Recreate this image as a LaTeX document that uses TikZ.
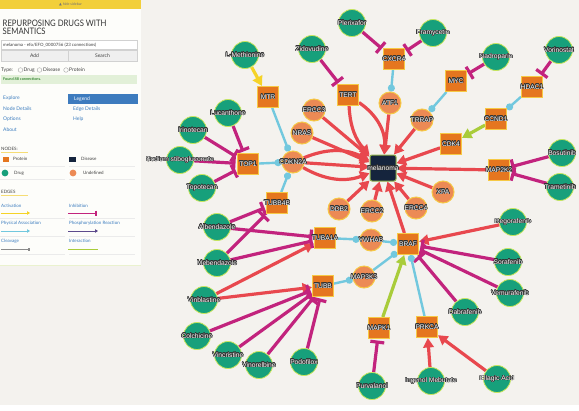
\documentclass[tikz,border=0pt]{standalone}
\usepackage{fontspec}
\setmainfont{Liberation Sans}
\newfontfamily\uifont{Lato}
\newfontfamily\titlefont[FakeStretch=0.86]{Lato}
\newfontfamily\symfont{DejaVu Sans}
\usepackage{contour}
\contourlength{0.45pt}
\usetikzlibrary{arrows.meta,backgrounds}

\definecolor{canvas}{HTML}{F4F2EE}
\definecolor{panel}{HTML}{FDFDFA}
\definecolor{baryellow}{HTML}{F2CF3A}
\definecolor{protorange}{HTML}{E5761F}
\definecolor{nodeyellow}{HTML}{F6C945}
\definecolor{druggreen}{HTML}{17A07B}
\definecolor{drugrim}{HTML}{C9E65C}
\definecolor{undeforange}{HTML}{EC8A55}
\definecolor{disnavy}{HTML}{15243D}
\definecolor{disrim}{HTML}{8FB04C}
\definecolor{edgered}{HTML}{E8484E}
\definecolor{inhibmag}{HTML}{C2237D}
\definecolor{physblue}{HTML}{72C8DE}
\definecolor{actyellow}{HTML}{F5D327}
\definecolor{intgreen}{HTML}{A9CC3A}
\definecolor{phosviolet}{HTML}{5C4A8C}
\definecolor{cleavgrey}{HTML}{8A8A8A}
\definecolor{linkblue}{HTML}{3C7DBF}
\definecolor{legendblue}{HTML}{3D7BBE}
\definecolor{foundgreen}{HTML}{E2F0D8}
\definecolor{btngrey}{HTML}{EFEFEF}

\newcommand{\halo}[1]{\contour{black!80}{#1}}

\begin{document}
\begin{tikzpicture}[x=1bp, y=-1bp,
  protein/.style={rectangle, minimum size=21bp, inner sep=0pt, fill=protorange, draw=nodeyellow, line width=1bp},
  drug/.style={circle, minimum size=27bp, inner sep=0pt, fill=druggreen, draw=drugrim, line width=0.8bp},
  undef/.style={circle, minimum size=22bp, inner sep=0pt, fill=undeforange, draw=nodeyellow, line width=1bp},
  disease/.style={rectangle, rounded corners=2bp, minimum size=26bp, inner sep=0pt, fill=disnavy, draw=disrim, line width=1bp},
  lbl/.style={font=\fontsize{6.7}{7}\selectfont, text=white, inner sep=0pt},
  assoc/.style={draw=edgered, line width=3.2bp, -{Triangle[length=9.5bp,width=10.5bp]}},
  inhib/.style={draw=inhibmag, line width=3.2bp, -{Bar[width=14bp]}, shorten >=1.5bp},
  phys/.style={draw=physblue, line width=2.4bp, {Circle[length=7bp]}-},
  activ/.style={draw=actyellow, line width=3.2bp, -{Triangle[length=9.5bp,width=10.5bp]}},
  inter/.style={draw=intgreen, line width=3.2bp, -{Triangle[length=9.5bp,width=10.5bp]}},
  side/.style={font=\uifont\fontsize{5}{6}\selectfont, anchor=west, inner sep=0pt, text=black!75},
  link/.style={side, text=linkblue}]
\useasboundingbox (0,0) rectangle (579,410);

% disease and proteins
\node[disease, label={[lbl]center:\halo{melanoma}}] (mel) at (383,168) {};
\node[protein, label={[lbl]center:\halo{MTR}}] (mtr) at (268,97) {};
\node[protein, label={[lbl]center:\halo{TERT}}] (tert) at (348,95) {};
\node[protein, label={[lbl]center:\halo{CXCR4}}] (cxcr4) at (394,59) {};
\node[protein, label={[lbl]center:\halo{MYC}}] (myc) at (456,81) {};
\node[protein, label={[lbl]center:\halo{HDAC1}}] (hdac1) at (532,87) {};
\node[protein, label={[lbl]center:\halo{CCND1}}] (ccnd1) at (496,119) {};
\node[protein, label={[lbl]center:\halo{CDK4}}] (cdk4) at (451,144) {};
\node[protein, label={[lbl]center:\halo{MAP2K2}}] (map2k2) at (499,170) {};
\node[protein, label={[lbl]center:\halo{TOP1}}] (top1) at (248,164) {};
\node[protein, label={[lbl]center:\halo{TUBB4B}}] (tubb4b) at (277,203) {};
\node[protein, label={[lbl]center:\halo{TUBA1A}}] (tuba1a) at (325,238) {};
\node[protein, label={[lbl]center:\halo{BRAF}}] (braf) at (408,244) {};
\node[protein, label={[lbl]center:\halo{TUBB}}] (tubb) at (323,286) {};
\node[protein, label={[lbl]center:\halo{MAPK1}}] (mapk1) at (379,328) {};
\node[protein, label={[lbl]center:\halo{PRKCA}}] (prkca) at (427,327) {};

% undefined
\node[undef, label={[lbl]center:\halo{ERCC3}}] (ercc3) at (314,110) {};
\node[undef, label={[lbl]center:\halo{NRAS}}] (nras) at (302,133) {};
\node[undef, label={[lbl]center:\halo{ATF1}}] (atf1) at (390,103) {};
\node[undef, label={[lbl]center:\halo{TRRAP}}] (trrap) at (422,120) {};
\node[undef, label={[lbl]center:\halo{CDKN2A}}] (cdkn) at (293,162) {};
\node[undef, label={[lbl]center:\halo{XPA}}] (xpa) at (443,192) {};
\node[undef, label={[lbl]center:\halo{ERCC4}}] (ercc4) at (416,208) {};
\node[undef, label={[lbl]center:\halo{DDB2}}] (ddb2) at (339,209) {};
\node[undef, label={[lbl]center:\halo{ERCC2}}] (ercc2) at (372,211) {};
\node[undef, label={[lbl]center:\halo{YWHAB}}] (ywhab) at (371,240) {};
\node[undef, label={[lbl]center:\halo{MAP3K3}}] (map3k3) at (364,277) {};

% drugs
\node[drug, label={[lbl]center:\halo{L-Methionine}}] (lmet) at (245,55) {};
\node[drug, label={[lbl]center:\halo{Zidovudine}}] (zido) at (312,49) {};
\node[drug, label={[lbl]center:\halo{Plerixafor}}] (pler) at (352,23) {};
\node[drug, label={[lbl]center:\halo{Framycetin}}] (fram) at (433,33) {};
\node[drug, label={[lbl]center:\halo{Nadroparin}}] (nadro) at (496,57) {};
\node[drug, label={[lbl]center:\halo{Vorinostat}}] (vori) at (559,50) {};
\node[drug, label={[lbl]center:\halo{Lucanthone}}] (lucan) at (228,113) {};
\node[drug, label={[lbl]center:\halo{Irinotecan}}] (irino) at (193,130) {};
\node[drug, label={[lbl]center:\halo{Sodium stibogluconate}}] (sodium) at (180,160) {};
\node[drug, label={[lbl]center:\halo{Topotecan}}] (topo) at (202,188) {};
\node[drug, label={[lbl]center:\halo{Bosutinib}}] (bosu) at (562,153) {};
\node[drug, label={[lbl]center:\halo{Trametinib}}] (trame) at (560,187) {};
\node[drug, label={[lbl]center:\halo{Albendazole}}] (albe) at (217,227) {};
\node[drug, label={[lbl]center:\halo{Mebendazole}}] (mebe) at (217,263) {};
\node[drug, label={[lbl]center:\halo{Regorafenib}}] (rego) at (513,222) {};
\node[drug, label={[lbl]center:\halo{Sorafenib}}] (sora) at (508,262) {};
\node[drug, label={[lbl]center:\halo{Vemurafenib}}] (vemu) at (510,293) {};
\node[drug, label={[lbl]center:\halo{Dabrafenib}}] (dabra) at (465,312) {};
\node[drug, label={[lbl]center:\halo{Vinblastine}}] (vinbl) at (204,300) {};
\node[drug, label={[lbl]center:\halo{Colchicine}}] (colch) at (197,336) {};
\node[drug, label={[lbl]center:\halo{Vincristine}}] (vincr) at (228,355) {};
\node[drug, label={[lbl]center:\halo{Vinorelbine}}] (vinor) at (259,365) {};
\node[drug, label={[lbl]center:\halo{Podofilox}}] (podo) at (304,362) {};
\node[drug, label={[lbl]center:\halo{Purvalanol}}] (purva) at (372,386) {};
\node[drug, label={[lbl]center:\halo{Ingenol Mebutate}}] (ingenol) at (431,381) {};
\node[drug, label={[lbl]center:\halo{Ellagic Acid}}] (ellag) at (497,379) {};

\begin{scope}[on background layer]
  \fill[canvas] (0,0) rectangle (579,410);
  \fill[white] (0,405) rectangle (579,410);
  % associations with the disease
  \foreach \g in {ercc3,nras,atf1,trrap,cdk4,map2k2,xpa,ercc4,ercc2,ddb2,braf}
    \draw[assoc] (\g) -- (mel);
  \draw[assoc] (tert) to[bend right=20] (mel);
  \draw[assoc] (tert) to[bend left=30] (mel);
  \draw[assoc] (cdkn) to[bend left=25] (mel);
  \draw[assoc] (cdkn) -- (mel);
  \draw[assoc] (cdkn) to[bend right=25] (mel);
  % drug targets
  \draw[assoc] (vinbl) -- (tubb);
  \draw[assoc] (vinbl) -- (tuba1a);
  \draw[assoc] (rego) -- (braf);
  \draw[assoc] (ingenol) -- (prkca);
  \draw[assoc] (ellag) -- (prkca);
  \draw[activ] (lmet) -- (mtr);
  \foreach \d/\p in {zido/tert,pler/cxcr4,fram/cxcr4,nadro/myc,vori/hdac1,
      lucan/top1,irino/top1,sodium/top1,topo/top1,bosu/map2k2,trame/map2k2,
      albe/tubb4b,albe/tuba1a,mebe/tubb4b,mebe/tuba1a,colch/tubb,vincr/tubb,
      vinor/tubb,podo/tubb,purva/mapk1,sora/braf,vemu/braf,dabra/braf}
    \draw[inhib] (\d) -- (\p);
  % protein interactions
  \draw[phys] (cdkn) -- (mtr);
  \draw[phys] (cdkn) -- (top1);
  \draw[phys] (cdkn) -- (tubb4b);
  \draw[phys] (atf1) -- (cxcr4);
  \draw[phys] (trrap) -- (myc);
  \draw[phys] (ccnd1) -- (hdac1);
  \draw[phys] (ywhab) -- (tuba1a);
  \draw[phys] (braf) -- (ywhab);
  \draw[phys] (map3k3) -- (tubb);
  \draw[phys] (braf) -- (map3k3);
  \draw[phys] (braf) -- (prkca);
  \draw[inter] (mapk1) -- (braf);
  \draw[inter] (ccnd1) -- (cdk4);
\end{scope}

% sidebar
\fill[panel] (0,9) rectangle (141,265);
\draw[intgreen!25, line width=1bp] (0,265) -- (141,265);
\fill[baryellow] (0,0) rectangle (141,9);
\node[side, anchor=center, font=\uifont\fontsize{3.6}{4}\selectfont, text=black!55] (hide) at (70.5,4.5) {{\symfont ▲} hide sidebar};
\node[anchor=north west, inner sep=0pt, align=left, text=black!80,
  font=\titlefont\fontsize{9}{8.6}\selectfont] (title) at (2.5,19.5) {REPURPOSING DRUGS WITH\\SEMANTICS};
\draw[black!18, fill=white] (1,40) rectangle (137,49.5);
\node[side, font=\uifont\fontsize{4.4}{5}\selectfont] (query) at (3,44.8) {melanoma - efo/EFO\_0000756 (23 connections)};
\draw[black!18, fill=btngrey] (1,50) rectangle (68.5,61);
\draw[black!18, fill=btngrey] (68.5,50) rectangle (137,61);
\node[side, anchor=center] (addbtn) at (34.5,55.5) {Add};
\node[side, anchor=center] (searchbtn) at (102.5,55.5) {Search};
\node[side] (typelbl) at (1,70) {Type:};
\draw[black!35, line width=0.4bp] (20.5,70) circle (2.3);
\node[side] (rdrug) at (23.5,70) {Drug};
\draw[black!35, line width=0.4bp] (39.5,70) circle (2.3);
\node[side] (rdis) at (43,70) {Disease};
\draw[black!35, line width=0.4bp] (66,70) circle (2.3);
\node[side] (rprot) at (69,70) {Protein};
\fill[foundgreen] (1,75) rectangle (137,84);
\node[side, font=\uifont\fontsize{3.8}{4}\selectfont, text=green!40!black] (found) at (3,79.5) {Found 88 connections.};
\fill[legendblue] (68,94) rectangle (138,104);
\node[link] (explore) at (3,98.5) {Explore};
\node[side, text=white] (legend) at (74,99) {Legend};
\node[link] (nodedet) at (3,109) {Node Details};
\node[link] (edgedet) at (73,109) {Edge Details};
\node[link] (options) at (3,119.5) {Options};
\node[link] (help) at (73,119.5) {Help};
\node[link] (about) at (3,130) {About};

% legend
\node[side, font=\uifont\fontsize{4.5}{5}\selectfont] (nodeshd) at (1,149) {NODES:};
\draw[baryellow!70, line width=0.6bp] (1,152.5) -- (28,152.5);
\fill[protorange] (3,156.5) rectangle (8.5,162);
\node[side, font=\uifont\fontsize{4.5}{5}\selectfont] (lprot) at (13,159.2) {Protein};
\fill[disnavy] (69,156.5) rectangle (75.5,162);
\node[side, font=\uifont\fontsize{4.5}{5}\selectfont] (ldis) at (81,159.2) {Disease};
\fill[druggreen] (5,173) circle (3.4);
\node[side, font=\uifont\fontsize{4.5}{5}\selectfont] (ldrug) at (14,173.2) {Drug};
\fill[undeforange] (73,173) circle (3.4);
\node[side, font=\uifont\fontsize{4.5}{5}\selectfont] (lundef) at (83,173.2) {Undefined};
\draw[black!8, line width=0.4bp] (0,166) -- (65,166) (69,166) -- (135,166)
  (0,179.5) -- (65,179.5) (69,179.5) -- (135,179.5);
\node[side, font=\uifont\fontsize{4.5}{5}\selectfont] (edgeshd) at (1,192) {EDGES};
\draw[baryellow!70, line width=0.6bp] (1,195.5) -- (28,195.5);
\node[link, font=\uifont\fontsize{4.5}{5}\selectfont] (lact) at (1,206) {Activation};
\draw[actyellow, line width=0.9bp, -{Triangle[length=3bp,width=3.5bp]}] (1,213) -- (30,213);
\node[link, font=\uifont\fontsize{4.5}{5}\selectfont] (linh) at (69,206) {Inhibition};
\draw[inhibmag, line width=0.9bp, -{Bar[width=5bp,line width=1.6bp]}] (68,213) -- (97,213);
\node[link, font=\uifont\fontsize{4.5}{5}\selectfont] (lphys) at (1,223.5) {Physical Association};
\draw[physblue, line width=0.9bp, -{Triangle[length=3bp,width=3.5bp]}] (1,231) -- (30,231);
\node[link, font=\uifont\fontsize{4.5}{5}\selectfont] (lphos) at (69,223.5) {Phosphorylation Reaction};
\draw[phosviolet, line width=0.9bp, -{Triangle[length=3bp,width=3.5bp]}] (68,231) -- (98,231);
\node[link, font=\uifont\fontsize{4.5}{5}\selectfont] (lcleav) at (1,241) {Cleavage};
\draw[cleavgrey, line width=0.9bp, -{Square[length=2.5bp,width=3bp]}] (1,249) -- (30,249);
\node[link, font=\uifont\fontsize{4.5}{5}\selectfont] (linter) at (69,241) {Interaction};
\draw[intgreen, line width=0.9bp] (68,249) -- (98,249);
\draw[black!8, line width=0.4bp] (0,218) -- (65,218) (69,218) -- (135,218)
  (0,236) -- (65,236) (69,236) -- (135,236)
  (0,254) -- (65,254) (69,254) -- (135,254);
\end{tikzpicture}
\end{document}
